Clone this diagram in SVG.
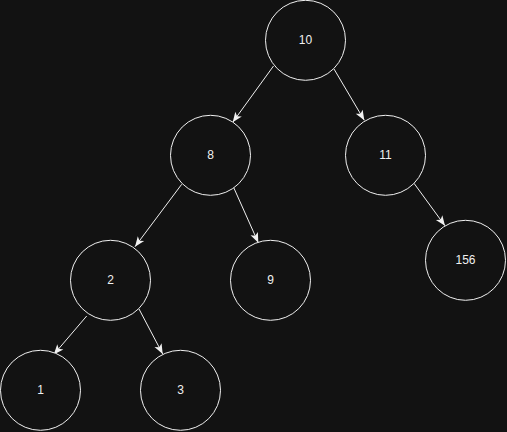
<svg xmlns="http://www.w3.org/2000/svg" width="507" height="432" viewBox="0 0 507 432">
<style>
.n circle{fill:#121212;stroke:#f0f0f0;stroke-width:1}
.n text{font-family:"Liberation Sans",Arial,sans-serif;font-size:12px;fill:#f0f0f0;text-anchor:middle;dominant-baseline:central}
.e line{stroke:#f0f0f0;stroke-width:1;marker-end:url(#arr)}
</style>
<defs>
<marker id="arr" markerUnits="userSpaceOnUse" markerWidth="12" markerHeight="10" refX="10" refY="4" orient="auto" overflow="visible">
<path d="M0,0 L10,4 L0,8 L2.5,4 Z" fill="#f0f0f0"/>
</marker>
</defs>
<rect width="507" height="432" fill="#121212"/>
<g id="edges" class="e">
<line x1="273.5" y1="66" x2="232.7" y2="122.3"/>
<line x1="334" y1="69" x2="364.3" y2="120.3"/>
<line x1="181.7" y1="184.3" x2="135" y2="246.7"/>
<line x1="233.3" y1="186.7" x2="258.3" y2="242.7"/>
<line x1="414" y1="183.3" x2="445" y2="225.8"/>
<line x1="86.7" y1="316" x2="53.8" y2="354.5"/>
<line x1="139" y1="309" x2="162.7" y2="354"/>
</g>
<g id="n10" class="n"><circle cx="305.5" cy="40.3" r="40"/><text x="305.5" y="40.3">10</text></g>
<g id="n8" class="n"><circle cx="210.5" cy="155.3" r="40"/><text x="210.5" y="155.3">8</text></g>
<g id="n11" class="n"><circle cx="385.5" cy="155.3" r="40"/><text x="385.5" y="155.3">11</text></g>
<g id="n2" class="n"><circle cx="110.5" cy="280.3" r="40"/><text x="110.5" y="280.3">2</text></g>
<g id="n9" class="n"><circle cx="270.5" cy="280.3" r="40"/><text x="270.5" y="280.3">9</text></g>
<g id="n156" class="n"><circle cx="465.5" cy="260.3" r="40"/><text x="465.5" y="260.3">156</text></g>
<g id="n1" class="n"><circle cx="40.5" cy="390.3" r="40"/><text x="40.5" y="390.3">1</text></g>
<g id="n3" class="n"><circle cx="180.5" cy="390.3" r="40"/><text x="180.5" y="390.3">3</text></g>
</svg>
